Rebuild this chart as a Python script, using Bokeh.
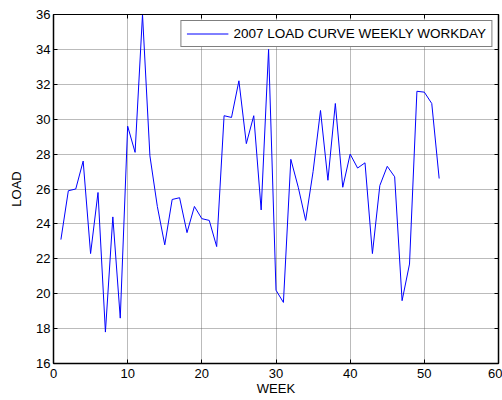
from bokeh.plotting import figure
from bokeh.models import LinearAxis, FixedTicker, Range1d, Legend, LegendItem
from bokeh.embed import file_html
from bokeh.resources import INLINE

weeks = list(range(1, 53))
load = [23.1, 25.9, 26.0, 27.6, 22.3, 25.8, 17.8, 24.4, 18.6, 29.6,
        28.1, 36.0, 27.9, 25.0, 22.8, 25.4, 25.5, 23.5, 25.0, 24.3,
        24.2, 22.7, 30.2, 30.1, 32.2, 28.6, 30.2, 24.8, 34.0, 20.2,
        19.5, 27.7, 26.1, 24.2, 27.0, 30.5, 26.5, 30.9, 26.1, 28.0,
        27.2, 27.5, 22.3, 26.2, 27.3, 26.7, 19.6, 21.7, 31.6, 31.55,
        30.9, 26.6]
x_ticks = [0, 10, 20, 30, 40, 50, 60]
y_ticks = [16, 18, 20, 22, 24, 26, 28, 30, 32, 34, 36]
series_label = "2007 LOAD CURVE WEEKLY WORKDAY"

FONT = "Liberation Sans"

p = figure(width=502, height=400, output_backend="svg", toolbar_location=None,
           x_range=Range1d(0, 60), y_range=Range1d(16, 36),
           min_border_left=53, min_border_right=4, min_border_top=14, min_border_bottom=37)
p.outline_line_color = "black"
p.outline_line_width = 1

r = p.line(weeks, load, line_color="#0000ff", line_width=1)

def style_axis(ax, ticks, labels=True, lw=1.5):
    ax.ticker = FixedTicker(ticks=ticks)
    ax.major_tick_in = 4
    ax.major_tick_out = 0
    ax.minor_tick_line_color = None
    ax.axis_line_color = "black"
    ax.axis_line_width = lw
    ax.major_tick_line_color = "black"
    ax.major_label_text_font = FONT
    ax.major_label_text_font_size = "13px"
    ax.major_label_text_color = "black" if labels else None
    ax.axis_label_text_font = FONT
    ax.axis_label_text_font_size = "13px"
    ax.axis_label_text_font_style = "normal"
    ax.axis_label_text_color = "black"

style_axis(p.xaxis[0], x_ticks)
style_axis(p.yaxis[0], y_ticks)
p.xaxis[0].axis_label = "WEEK"
p.yaxis[0].axis_label = "LOAD"
p.xaxis[0].major_label_standoff = 5
p.xaxis[0].axis_label_standoff = 0
p.yaxis[0].major_label_standoff = 3
p.yaxis[0].axis_label_standoff = 9

top = LinearAxis()
style_axis(top, x_ticks, labels=False, lw=1)
top.major_label_text_font_size = "0px"
top.major_label_standoff = 0
p.add_layout(top, "above")
right = LinearAxis()
style_axis(right, y_ticks, labels=False)
right.major_label_text_font_size = "0px"
right.major_label_standoff = 0
p.add_layout(right, "right")

for g in (p.xgrid[0], p.ygrid[0]):
    g.grid_line_color = "#555555"
    g.grid_line_dash = "1 1"
    g.grid_line_alpha = 0.8
p.xgrid[0].ticker = FixedTicker(ticks=x_ticks)
p.ygrid[0].ticker = FixedTicker(ticks=y_ticks)

legend = Legend(items=[LegendItem(label=series_label, renderers=[r])],
                location="top_right")
legend.border_line_color = "black"
legend.border_line_width = 1
legend.background_fill_color = "white"
legend.background_fill_alpha = 1
legend.label_text_font = FONT
legend.label_text_font_size = "13.5px"
legend.label_text_color = "black"
legend.glyph_width = 42
legend.glyph_height = 15
legend.padding = 5
legend.spacing = 0
legend.margin = 6
legend.label_standoff = 5
legend.label_height = 15
p.add_layout(legend, "center")

open("out.html", "w").write(file_html(p, INLINE))
